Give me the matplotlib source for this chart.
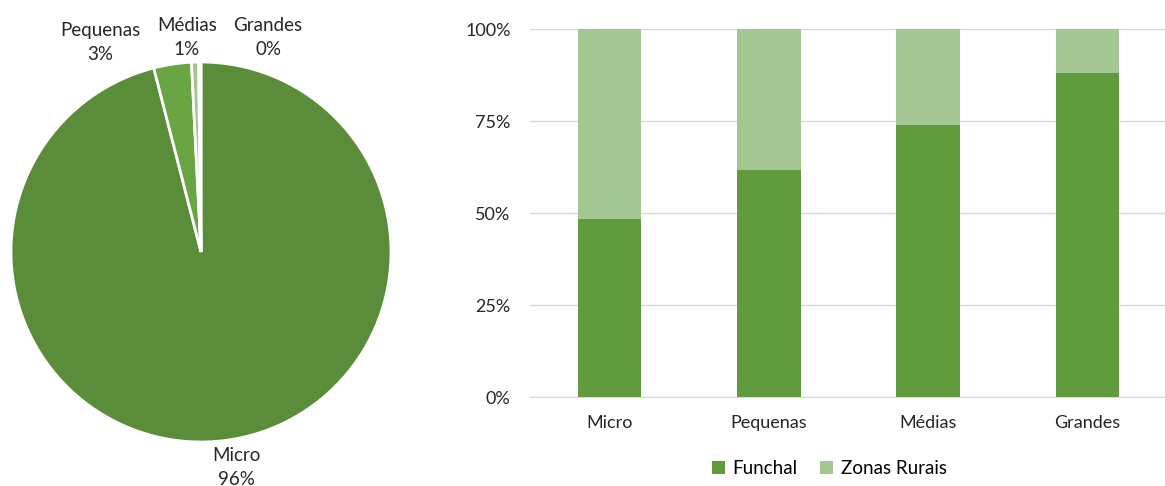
import numpy as np
import matplotlib
matplotlib.use("Agg")
import matplotlib.pyplot as plt

plt.rcParams['font.family'] = ['Lato', 'DejaVu Sans']

# pie data (share of companies by size)
sizes = ["Micro", "Pequenas", "Médias", "Grandes"]
size_share = [96.0, 3.2, 0.6, 0.2]
size_labels = ["96%", "3%", "1%", "0%"]
pie_colors = ["#5a8c3a", "#6aa544", "#a3c48c", "#c9dcbb"]

# stacked bar data (share by zone)
funchal = [48.4, 61.7, 73.9, 88.0]
rurais = [100 - v for v in funchal]
bar_colors = ["#629b3e", "#a4c693"]

fig = plt.figure(figsize=(11.65, 4.86), dpi=100)

# ---- pie ----
ax1 = fig.add_axes([11 / 1165, 44 / 486, 380 / 1165, 380 / 486])
ax1.pie(size_share, colors=pie_colors, startangle=90, counterclock=False,
        wedgeprops=dict(edgecolor="white", linewidth=2))
ax1.set_xlim(-1, 1)
ax1.set_ylim(-1, 1)
ax1.set_aspect("auto")
ax1.axis("off")

label_pos = [(0.184, -1.135), (-0.53, 1.10), (-0.074, 1.13), (0.353, 1.13)]
for name, lab, (x, y) in zip(sizes, size_labels, label_pos):
    ax1.text(x, y, f"{name}\n{lab}", ha="center", va="center", fontsize=13.5,
             color="#262626", linespacing=1.5, clip_on=False)

# ---- stacked bars ----
ax2 = fig.add_axes([530 / 1165, 89 / 486, 637 / 1165, 368 / 486])
x = np.arange(len(sizes))
ax2.bar(x, funchal, width=0.4, color=bar_colors[0], label="Funchal", zorder=3)
ax2.bar(x, rurais, width=0.4, bottom=funchal, color=bar_colors[1],
        label="Zonas Rurais", zorder=3)
ax2.set_xlim(-0.5, 3.5)
ax2.set_ylim(0, 100)
ax2.set_yticks([0, 25, 50, 75, 100])
ax2.set_yticklabels(["0%", "25%", "50%", "75%", "100%"])
ax2.set_xticks(x)
ax2.set_xticklabels(sizes)
ax2.yaxis.grid(True, color="#d9d9d9", linewidth=1, zorder=0)
for s in ax2.spines.values():
    s.set_visible(False)
ax2.spines["bottom"].set_visible(True)
ax2.spines["bottom"].set_color("#d9d9d9")
ax2.tick_params(axis="both", length=0, labelsize=13, colors="#262626")
ax2.tick_params(axis="y", pad=14)
ax2.tick_params(axis="x", pad=13)
ax2.legend(loc="upper center", bbox_to_anchor=(0.47, -0.125), ncol=2,
           frameon=False, fontsize=13.5, handlelength=0.7, handleheight=0.7,
           columnspacing=1.2, handletextpad=0.4)

fig.savefig("out.png", dpi=100)
